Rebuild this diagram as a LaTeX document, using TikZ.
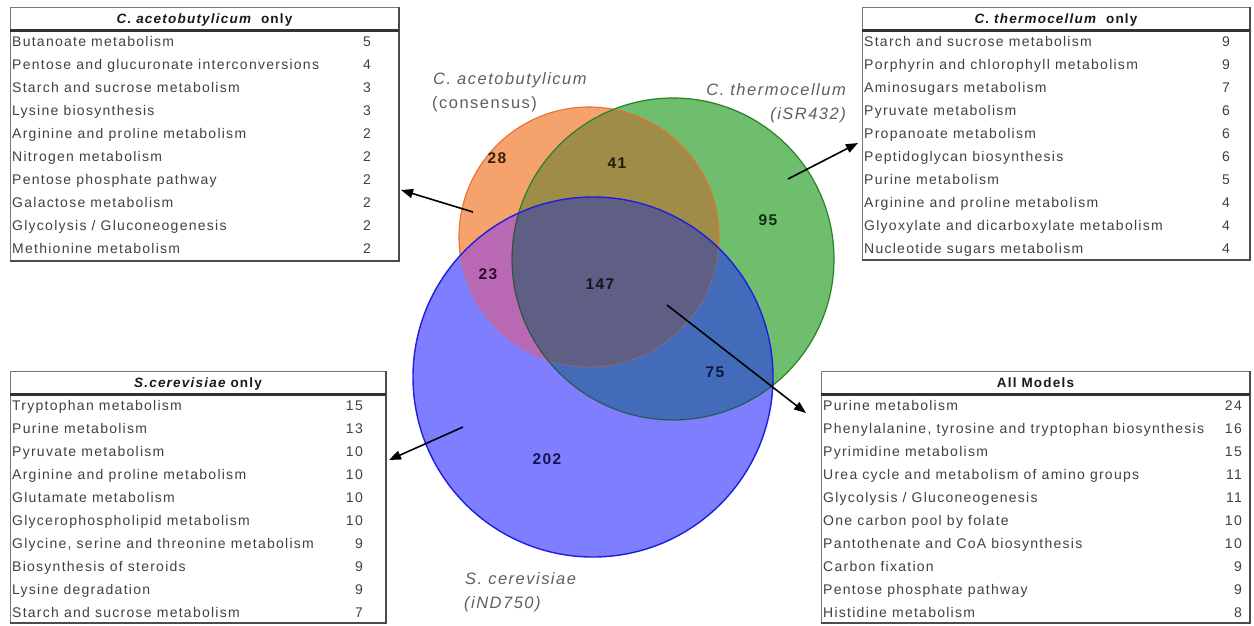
\documentclass[tikz,border=0pt]{standalone}
\usepackage{fontspec}
\setmainfont{Liberation Sans}
\newfontfamily\rowfont[LetterSpace=9]{Liberation Sans}
\usetikzlibrary{arrows.meta}

% region colours of the Venn diagram
\definecolor{caOnly}{RGB}{245,162,108}
\definecolor{ctOnly}{RGB}{110,190,110}
\definecolor{scOnly}{RGB}{126,126,255}
\definecolor{caCt}{RGB}{158,140,72}
\definecolor{caSc}{RGB}{185,105,180}
\definecolor{ctSc}{RGB}{66,108,185}
\definecolor{allThree}{RGB}{95,94,132}
\definecolor{caEdge}{RGB}{232,112,52}
\definecolor{ctEdge}{RGB}{40,130,40}
\definecolor{scEdge}{RGB}{30,30,225}
\definecolor{rowgray}{RGB}{65,65,65}
\definecolor{labgray}{RGB}{95,95,95}
\definecolor{framegray}{RGB}{120,120,120}

\tikzset{
  tabframe/.style={draw=framegray, line width=0.8pt},
  tabshade/.style={draw=black!70, line width=1.7pt},
  headrule/.style={draw=black!80, line width=2.6pt},
  headtext/.style={inner sep=0pt, text height=10pt, text depth=3pt,
    font=\rowfont\fontsize{13.5}{15}\selectfont\bfseries, text=black!90},
  rowtext/.style={anchor=west, inner sep=0pt, text height=10pt, text depth=3pt,
    font=\rowfont\fontsize{14}{16}\selectfont, text=rowgray},
  numtext/.style={anchor=east, inner sep=0pt, text height=10pt, text depth=3pt,
    font=\rowfont\fontsize{14}{16}\selectfont, text=rowgray},
  count/.style={inner sep=0pt, font=\rowfont\fontsize{15.5}{17}\selectfont\bfseries},
  species/.style={inner sep=0pt, text height=12pt, text depth=4pt,
    font=\rowfont\fontsize{16.5}{18}\selectfont, text=labgray},
  pointer/.style={draw=black, line width=1.6pt, -{Triangle[length=12pt,width=9pt]}},
}

% #1 name, (#2,#3)-(#4,#5) frame, #6 header, #7 right edge of counts, #8 rows
\newcommand\mktable[8]{%
  \draw[tabframe] (#2,#3) rectangle (#4,#5);
  \draw[tabshade] (#4,#3) -- (#4,#5) -- (#2,#5);
  \node[headtext] (#1-head) at ({(#2+#4)/2},#3+12.5) {#6};
  \draw[headrule] (#2,#3+23.5) -- (#4,#3+23.5);
  \foreach \t/\n [count=\i from 0] in {#8} {
    \node[rowtext] (#1-r\i) at (#2+2,#3+35.5+23*\i) {\t};
    \node[numtext] (#1-n\i) at (#7,#3+35.5+23*\i) {\n};
  }%
}

\begin{document}
\begin{tikzpicture}[x=1pt,y=-1pt]
\useasboundingbox (0,0) rectangle (1254,625);
\fill[white] (0,0) rectangle (1254,625);

% circle centres
\coordinate (cA) at (589,237);
\coordinate (cT) at (673,259);
\coordinate (cS) at (593,377);
\def\rA{130pt}\def\rT{161pt}\def\rS{180pt}

% regions outside S. cerevisiae
\fill[caOnly] (cA) circle[radius=\rA];
\fill[ctOnly] (cT) circle[radius=\rT];
\begin{scope}
  \clip (cA) circle[radius=\rA];
  \fill[caCt] (cT) circle[radius=\rT];
\end{scope}
\draw[caEdge, line width=1.1pt] (cA) circle[radius=\rA];
\draw[ctEdge, line width=1.2pt] (cT) circle[radius=\rT];

% regions inside S. cerevisiae
\fill[scOnly] (cS) circle[radius=\rS];
\begin{scope}
  \clip (cS) circle[radius=\rS];
  \fill[caSc] (cA) circle[radius=\rA];
  \fill[ctSc] (cT) circle[radius=\rT];
  \begin{scope}
    \clip (cA) circle[radius=\rA];
    \fill[allThree] (cT) circle[radius=\rT];
  \end{scope}
  \draw[caEdge, opacity=0.3, line width=1pt] (cA) circle[radius=\rA];
  \draw[black!40!ctEdge, opacity=0.7, line width=1.2pt] (cT) circle[radius=\rT];
\end{scope}
\draw[scEdge, line width=1.4pt] (cS) circle[radius=\rS];

% counts
\node[count, text={rgb,255:red,60;green,30;blue,15}] (n28) at (497,158) {28};
\node[count, text={rgb,255:red,30;green,30;blue,5}] (n41) at (617,163) {41};
\node[count, text={rgb,255:red,15;green,45;blue,15}] (n95) at (768,220) {95};
\node[count, text={rgb,255:red,50;green,5;blue,50}] (n23) at (488,274) {23};
\node[count, text={rgb,255:red,20;green,20;blue,30}] (n147) at (600,284) {147};
\node[count, text={rgb,255:red,15;green,25;blue,55}] (n75) at (715,372) {75};
\node[count, text={rgb,255:red,20;green,20;blue,80}] (n202) at (547,459) {202};

% species labels
\node[species, anchor=west] (labA1) at (433,80) {\itshape C. acetobutylicum};
\node[species, anchor=west] (labA2) at (432,104) {(consensus)};
\node[species, anchor=east] (labT1) at (846,91) {\itshape C. thermocellum};
\node[species, anchor=east] (labT2) at (846,115) {\itshape (iSR432)};
\node[species, anchor=west] (labS1) at (465,580) {\itshape S. cerevisiae};
\node[species, anchor=west] (labS2) at (464,604) {\itshape (iND750)};

% tables of pathways
\mktable{ca}{10}{7}{399}{261}{\itshape C. acetobutylicum\upshape\ \ only}{371}{%
  Butanoate metabolism/5,
  Pentose and glucuronate interconversions/4,
  Starch and sucrose metabolism/3,
  Lysine biosynthesis/3,
  Arginine and proline metabolism/2,
  Nitrogen metabolism/2,
  Pentose phosphate pathway/2,
  Galactose metabolism/2,
  {Glycolysis / Gluconeogenesis}/2,
  Methionine metabolism/2}

\mktable{ct}{862}{7}{1250}{260}{\itshape C. thermocellum\upshape\ \ only}{1230}{%
  Starch and sucrose metabolism/9,
  Porphyrin and chlorophyll metabolism/9,
  Aminosugars metabolism/7,
  Pyruvate metabolism/6,
  Propanoate metabolism/6,
  Peptidoglycan biosynthesis/6,
  Purine metabolism/5,
  Arginine and proline metabolism/4,
  Glyoxylate and dicarboxylate metabolism/4,
  Nucleotide sugars metabolism/4}

\mktable{sc}{10}{371}{386}{623}{\itshape S.cerevisiae\upshape\ only}{363}{%
  Tryptophan metabolism/15,
  Purine metabolism/13,
  Pyruvate metabolism/10,
  Arginine and proline metabolism/10,
  Glutamate metabolism/10,
  Glycerophospholipid metabolism/10,
  {Glycine, serine and threonine metabolism}/9,
  Biosynthesis of steroids/9,
  Lysine degradation/9,
  Starch and sucrose metabolism/7}

\mktable{all}{821}{371}{1250}{623}{All Models}{1242}{%
  Purine metabolism/24,
  {Phenylalanine, tyrosine and tryptophan biosynthesis}/16,
  Pyrimidine metabolism/15,
  Urea cycle and metabolism of amino groups/11,
  {Glycolysis / Gluconeogenesis}/11,
  One carbon pool by folate/10,
  Pantothenate and CoA biosynthesis/10,
  Carbon fixation/9,
  Pentose phosphate pathway/9,
  Histidine metabolism/8}

% pointers from the Venn regions to their tables
\coordinate (pA0) at (473,212); \coordinate (pA1) at (401,190);
\coordinate (pT0) at (788,179); \coordinate (pT1) at (858,143);
\coordinate (pS0) at (463,427); \coordinate (pS1) at (389,460);
\coordinate (pX0) at (667,305); \coordinate (pX1) at (806,413);
\draw[pointer] (pA0) -- (pA1);
\draw[pointer] (pT0) -- (pT1);
\draw[pointer] (pS0) -- (pS1);
\draw[pointer] (pX0) -- (pX1);
\end{tikzpicture}
\end{document}
